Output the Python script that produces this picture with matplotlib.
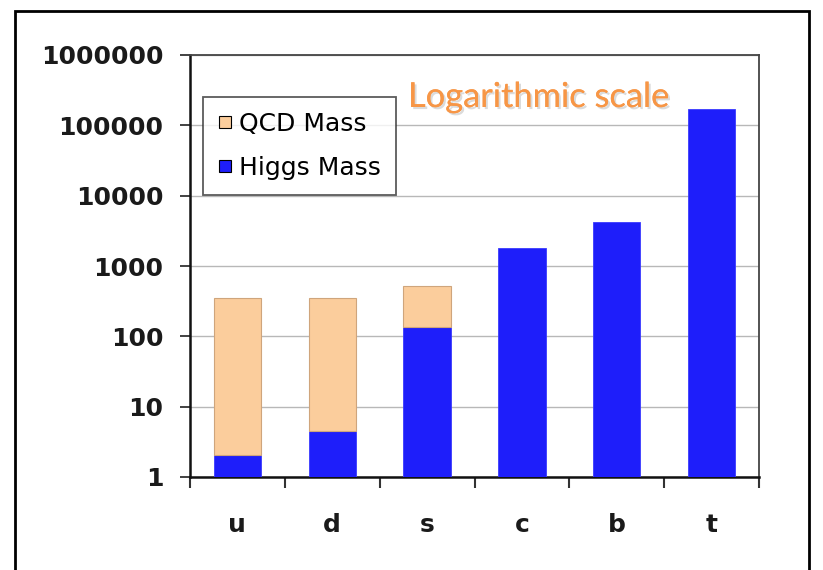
import numpy as np
import matplotlib
matplotlib.use("Agg")
import matplotlib.pyplot as plt
from matplotlib.lines import Line2D
from matplotlib.patches import Rectangle
from matplotlib.ticker import FixedLocator, NullFormatter, FixedFormatter
import matplotlib.patheffects as pe

# ---- data (MeV) ----
quarks = ["u", "d", "s", "c", "b", "t"]
higgs_mass = np.array([2.05, 4.5, 135.0, 1800.0, 4200.0, 168000.0])
total_mass = np.array([350.0, 350.0, 520.0, 1800.0, 4200.0, 168000.0])
ytick_vals = [1, 10, 100, 1000, 10000, 100000, 1000000]
ytick_labels = ["1", "10", "100", "1000", "10000", "100000", "1000000"]

qcd_mass = total_mass - higgs_mass

W, H = 823, 570
fig = plt.figure(figsize=(W / 100, H / 100), dpi=100)
fig.patch.set_facecolor("white")

# outer frame
fig.add_artist(Rectangle((15 / W, -0.05), (809 - 15) / W, 1.05 - 11 / H,
                         transform=fig.transFigure, fill=False,
                         edgecolor="black", linewidth=2.0, clip_on=False))

ax = fig.add_axes([190 / W, 1 - 477 / H, (759 - 190) / W, (477 - 55) / H])
x = np.arange(len(quarks))

blue = "#1e1efa"
peach = "#fbcd9c"

ax.bar(x, higgs_mass, width=0.5, color=blue, edgecolor="#3a3aff",
       linewidth=0.6, zorder=3)
mask = qcd_mass > 0
ax.bar(x[mask], qcd_mass[mask], bottom=higgs_mass[mask], width=0.5,
       color=peach, edgecolor="#cfa57c", linewidth=0.8, zorder=3)

ax.set_yscale("log")
ax.set_ylim(1, 1e6)
ax.set_xlim(-0.5, len(quarks) - 0.5)

ax.yaxis.set_major_locator(FixedLocator(ytick_vals))
ax.yaxis.set_major_formatter(FixedFormatter(ytick_labels))
ax.yaxis.set_minor_locator(FixedLocator([]))
ax.grid(axis="y", which="major", color="#b8b8b8", linewidth=1.0, zorder=0)

ax.set_xticks(x)
ax.set_xticklabels(quarks)
ax.set_xticks(np.arange(-0.5, len(quarks), 1.0), minor=True)
ax.xaxis.set_minor_formatter(NullFormatter())
ax.tick_params(axis="x", which="major", length=0, pad=26)
ax.tick_params(axis="x", which="minor", length=8, width=1.5, color="#333333")
ax.tick_params(axis="y", which="major", length=7, width=1.3, pad=12,
               color="#333333")

for lab in ax.get_xticklabels() + ax.get_yticklabels():
    lab.set_fontfamily("DejaVu Sans")
    lab.set_fontweight("bold")
    lab.set_fontsize(18)
    lab.set_color("#1a1a1a")

for s in ["left", "bottom"]:
    ax.spines[s].set_color("#111111")
    ax.spines[s].set_linewidth(1.8)
for s in ["top", "right"]:
    ax.spines[s].set_color("#444444")
    ax.spines[s].set_linewidth(1.3)

handles = [
    Line2D([], [], marker="s", linestyle="none", markersize=8,
           markerfacecolor=peach, markeredgecolor="black", markeredgewidth=0.8),
    Line2D([], [], marker="s", linestyle="none", markersize=8,
           markerfacecolor=blue, markeredgecolor="black", markeredgewidth=0.8),
]
leg = ax.legend(handles, ["QCD Mass", "Higgs Mass"],
                loc="upper left", bbox_to_anchor=(13 / 569, (477 - 97) / 422),
                borderaxespad=0, frameon=True, fancybox=False,
                prop={"family": "DejaVu Sans", "size": 18},
                handlelength=0.55, handletextpad=0.3, labelspacing=0.78,
                borderpad=0.6)
leg.get_frame().set_edgecolor("#333333")
leg.get_frame().set_linewidth(1.3)
leg.set_zorder(5)

fig.text(408 / W, 1 - 97 / H, "Logarithmic scale", color="#f79646",
         fontfamily="Lato", fontsize=24.8, va="center", ha="left",
         path_effects=[pe.withSimplePatchShadow(offset=(1.5, -1.5),
                                                shadow_rgbFace="#999999",
                                                alpha=0.35),
                       pe.Normal()])

fig.savefig("out.png", dpi=100, facecolor="white")
